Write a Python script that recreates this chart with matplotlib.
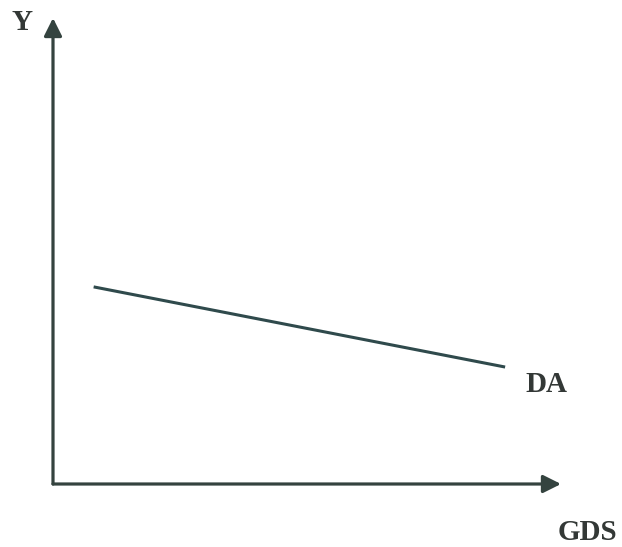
import matplotlib
matplotlib.use("Agg")
from matplotlib import pyplot as plt

# DA curve (two end points)
gds = [0.8, 8.9]
da = [4.23, 2.51]

# Axis labels
x_label = "GDS"
y_label = "Y"
curve_label = "DA"

ink = "#34433f"

fig = plt.figure(figsize=(6.22, 5.47), dpi=100)
fig.patch.set_facecolor("white")

# axes placed so that the origin sits where the axes cross
ax = fig.add_axes([53 / 622, 1 - 484 / 547, (561 - 53) / 622, (484 - 18) / 547])
ax.set_xlim(0, 10)
ax.set_ylim(0, 10)
ax.axis("off")

# Axes with arrow heads
arrow = dict(arrowstyle="-|>,head_length=0.6,head_width=0.3", color=ink,
             lw=2.3, mutation_scale=18, shrinkA=0, shrinkB=0)
ax.annotate("", xy=(10, 0), xytext=(0, 0), xycoords="data", arrowprops=arrow,
            annotation_clip=False)
ax.annotate("", xy=(0, 10), xytext=(0, 0), xycoords="data", arrowprops=arrow,
            annotation_clip=False)

# Demand curve
ax.plot(gds, da, color="#2f4a4c", lw=2.2, solid_capstyle="butt")

font = dict(family=["Liberation Serif", "DejaVu Serif"], weight="bold",
            size=21, color="#333836")
fig.text(22 / 622, 1 - 23 / 547, y_label, ha="center", va="center", **font)
fig.text(546 / 622, 1 - 385 / 547, curve_label, ha="center", va="center", **font)
fig.text(587 / 622, 1 - 532 / 547, x_label, ha="center", va="center", **font)

fig.savefig("out.png", dpi=100, facecolor="white")
